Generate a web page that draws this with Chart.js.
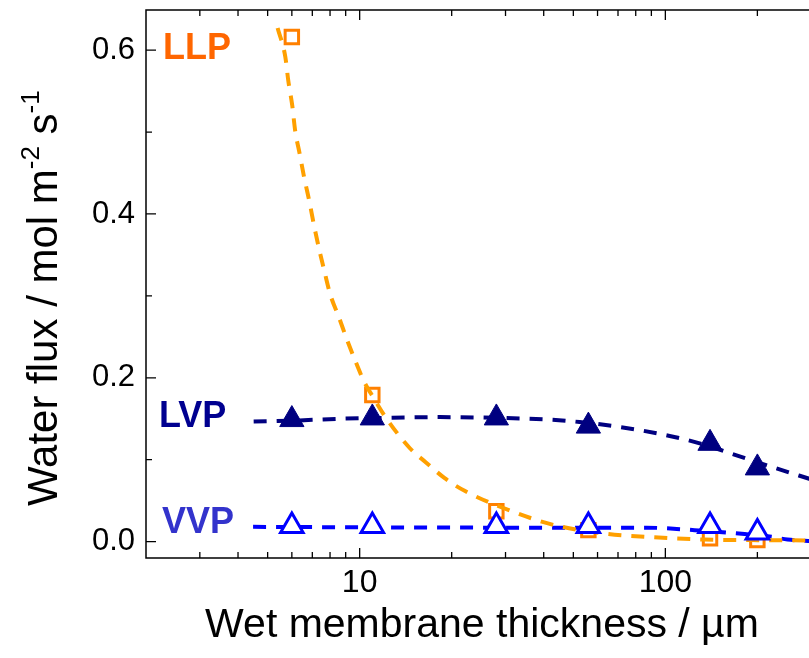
<!DOCTYPE html>
<html>
<head>
<meta charset="utf-8">
<title>Water flux vs wet membrane thickness</title>
<script src="https://cdn.jsdelivr.net/npm/chart.js@4.4.1/dist/chart.umd.min.js"></script>
<style>
  html, body { margin: 0; padding: 0; background: #fff; overflow: hidden; }
  #wrap { width: 809px; height: 658px; overflow: hidden; }
</style>
</head>
<body>
<div id="wrap"><canvas id="flux" width="860" height="658"></canvas></div>
<script>
// measured points (thickness in um, flux in mol m-2 s-1)
const thickness = [6, 11, 28, 56, 140, 200];
const llpFlux = [0.616, 0.179, 0.037, 0.014, 0.004, 0.002];
const lvpFlux = [0.149, 0.151, 0.151, 0.141, 0.120, 0.090];
const vvpFlux = [0.019, 0.019, 0.019, 0.019, 0.019, 0.011];

// fitted curves
const llpFitX = [5.39, 5.71, 5.84, 6.02, 6.15, 6.36, 6.58, 6.84, 7.10, 7.37, 7.68, 8.01, 8.57, 9.10, 9.74, 10.38, 11.0, 12.2, 14.6, 16.44, 18.97, 22.05, 30.95, 43.5, 63.8, 89.5, 134.5, 200, 300];
const llpFitY = [0.627, 0.592, 0.563, 0.532, 0.502, 0.474, 0.445, 0.416, 0.385, 0.357, 0.329, 0.302, 0.273, 0.246, 0.218, 0.194, 0.178, 0.151, 0.114, 0.097, 0.0775, 0.062, 0.038, 0.020, 0.0098, 0.0055, 0.0025, 0.0018, 0.0014];
const lvpFitX = [4.5, 6.36, 8.6, 11.6, 18.3, 28.7, 41.8, 52.4, 70.9, 103.3, 129.5, 175, 228, 300];
const lvpFitY = [0.1465, 0.148, 0.150, 0.151, 0.152, 0.151, 0.149, 0.146, 0.140, 0.129, 0.120, 0.104, 0.090, 0.076];
const vvpFitX = [4.48, 13.5, 41.8, 86.8, 124.7, 181.7, 222.7, 251, 300];
const vvpFitY = [0.018, 0.0173, 0.017, 0.017, 0.014, 0.0092, 0.0059, 0.0025, 0.0006];

// axis ticks
const xTickLabels = [10, 100];
const xMinorTicks = [3, 4, 5, 6, 7, 8, 9, 20, 30, 40, 50, 60, 70, 80, 90, 200, 300];
const yTickLabels = [0.0, 0.2, 0.4, 0.6];
const yMinorTicks = [0.1, 0.3, 0.5];

const FONT = '"Liberation Sans", Arial, Helvetica, sans-serif';

const pairs = (xs, ys) => xs.map((x, i) => ({ x: x, y: ys[i] }));

const fitLine = (label, xs, ys, color) => ({
  label: label,
  data: pairs(xs, ys),
  showLine: true,
  borderColor: color,
  borderWidth: 4,
  borderDash: [13, 10],
  cubicInterpolationMode: 'monotone',
  pointRadius: 0,
  pointHoverRadius: 0,
  fill: false
});

const markers = (label, ys, style, radius, stroke, fillColor, width) => ({
  label: label,
  data: pairs(thickness, ys),
  showLine: false,
  pointStyle: style,
  pointRadius: radius,
  pointHoverRadius: radius,
  pointBorderColor: stroke,
  pointBackgroundColor: fillColor,
  pointBorderWidth: width
});

// keep the plot box fixed: no extra room for overhanging tick labels
const noOverhang = s => {
  s.paddingTop = 0;
  s.paddingBottom = 0;
  s.paddingLeft = 0;
  s.paddingRight = 0;
};

// frame, inward ticks, titles and series names
const framePlugin = {
  id: 'frame',
  afterDraw(chart) {
    const ctx = chart.ctx;
    const area = chart.chartArea;
    const xs = chart.scales.x;
    const ys = chart.scales.y;
    ctx.save();
    ctx.strokeStyle = '#000';
    ctx.lineWidth = 1.5;
    ctx.beginPath();
    ctx.moveTo(area.right, area.top);
    ctx.lineTo(area.left, area.top);
    ctx.lineTo(area.left, area.bottom);
    ctx.lineTo(area.right, area.bottom);
    ctx.stroke();

    ctx.lineWidth = 1.3;
    ctx.beginPath();
    const xTick = (v, len) => {
      const px = xs.getPixelForValue(v);
      ctx.moveTo(px, area.bottom);
      ctx.lineTo(px, area.bottom - len);
      ctx.moveTo(px, area.top);
      ctx.lineTo(px, area.top + len);
    };
    const yTick = (v, len) => {
      const py = ys.getPixelForValue(v);
      ctx.moveTo(area.left, py);
      ctx.lineTo(area.left + len, py);
    };
    xTickLabels.forEach(v => xTick(v, 10));
    xMinorTicks.forEach(v => xTick(v, 6));
    yTickLabels.forEach(v => yTick(v, 10));
    yMinorTicks.forEach(v => yTick(v, 6));
    ctx.stroke();

    // x axis title
    ctx.fillStyle = '#000';
    ctx.font = '41px ' + FONT;
    ctx.textAlign = 'center';
    ctx.textBaseline = 'alphabetic';
    ctx.fillText('Wet membrane thickness / \u00b5m', 482, 637);

    // y axis title with superscripts
    ctx.translate(57, 506);
    ctx.rotate(-Math.PI / 2);
    ctx.textAlign = 'left';
    const parts = [
      ['Water flux / mol m', '42px ' + FONT, 0],
      ['-2', '26px ' + FONT, -18],
      [' s', '42px ' + FONT, 0],
      ['-1', '26px ' + FONT, -18]
    ];
    let off = 0;
    parts.forEach(([t, f, dy]) => {
      ctx.font = f;
      ctx.fillText(t, off, dy);
      off += ctx.measureText(t).width;
    });
    ctx.setTransform(1, 0, 0, 1, 0, 0);

    // series names
    ctx.font = 'bold 36px ' + FONT;
    ctx.textAlign = 'left';
    ctx.fillStyle = '#FF6600';
    ctx.fillText('LLP', 163, 59);
    ctx.fillStyle = '#000090';
    ctx.fillText('LVP', 159, 427);
    ctx.fillStyle = '#3333CC';
    ctx.fillText('VVP', 162, 533);
    ctx.restore();
  }
};

new Chart(document.getElementById('flux'), {
  type: 'scatter',
  data: {
    datasets: [
      markers('VVP', vvpFlux, 'triangle', 13, '#0000FF', '#FFFFFF', 3),
      fitLine('LLP fit', llpFitX, llpFitY, '#FFA000'),
      markers('LLP', llpFlux, 'rect', 9.5, '#FF8000', '#FFFFFF', 3),
      fitLine('VVP fit', vvpFitX, vvpFitY, '#0000FF'),
      markers('LVP', lvpFlux, 'triangle', 14, '#000080', '#000080', 1),
      fitLine('LVP fit', lvpFitX, lvpFitY, '#000080')
    ]
  },
  options: {
    responsive: false,
    animation: false,
    events: [],
    layout: { autoPadding: false, padding: { left: 0, top: 10, right: 10.6, bottom: 0 } },
    plugins: {
      legend: { display: false },
      tooltip: { enabled: false }
    },
    scales: {
      x: {
        type: 'logarithmic',
        min: 2,
        max: 400,
        grid: { display: false, drawTicks: false },
        border: { display: false },
        afterBuildTicks: s => { s.ticks = xTickLabels.map(v => ({ value: v })); },
        afterFit: s => { s.height = 100; noOverhang(s); },
        ticks: {
          color: '#000',
          padding: 6,
          maxRotation: 0,
          font: { family: FONT, size: 32 },
          callback: v => String(v)
        }
      },
      y: {
        type: 'linear',
        min: -0.02,
        max: 0.649,
        grid: { display: false, drawTicks: false },
        border: { display: false },
        afterBuildTicks: s => { s.ticks = yTickLabels.map(v => ({ value: v })); },
        afterFit: s => { s.width = 146; noOverhang(s); },
        ticks: {
          color: '#000',
          padding: 11,
          font: { family: FONT, size: 31 },
          callback: v => v.toFixed(1)
        }
      }
    }
  },
  plugins: [framePlugin]
});
</script>
</body>
</html>
